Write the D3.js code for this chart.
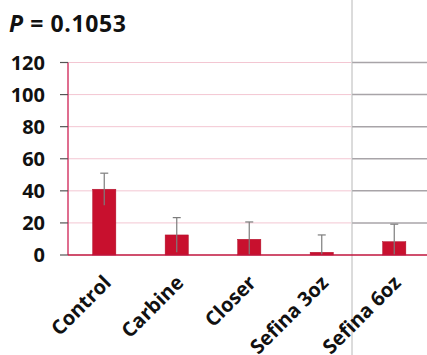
<!DOCTYPE html>
<html><head><meta charset="utf-8">
<script src="https://cdn.jsdelivr.net/npm/d3@7"></script>
<style>body{margin:0;background:#fff;overflow:hidden}svg{display:block}</style>
</head><body>
<svg id="c" width="427" height="355"></svg>
<script>
const categories = ["Control","Carbine","Closer","Sefina 3oz","Sefina 6oz"];
const means = [41, 12.5, 9.8, 1.7, 8.3];
const errors = [10, 10.8, 10.8, 10.8, 10.9];
const yTicks = [0,20,40,60,80,100,120];
const title = "0.1053";

const svg = d3.select("#c");
const W = 427, H = 355;
const axisX = 68, splitX = 352;
const x = d3.scaleBand().domain(categories).range([axisX, axisX + 72.5*5]).paddingInner(0.68).paddingOuter(0.34);
const y = d3.scaleLinear().domain([0,120]).range([255, 62.5]);

svg.append("g").selectAll("line").data(yTicks.filter(d=>d>0)).join("line")
  .attr("x1", axisX).attr("x2", splitX-1).attr("y1", d=>y(d)).attr("y2", d=>y(d))
  .attr("stroke", "#f3c6d2").attr("stroke-width", 1);
svg.append("g").selectAll("line").data(yTicks.filter(d=>d>0)).join("line")
  .attr("x1", splitX).attr("x2", W).attr("y1", d=>y(d)).attr("y2", d=>y(d))
  .attr("stroke", "#a8a4a8").attr("stroke-width", 1.5);
svg.append("line").attr("x1", splitX).attr("x2", splitX).attr("y1", 0).attr("y2", H)
  .attr("stroke", "#b8b8b8").attr("stroke-width", 1);

svg.append("g").selectAll("rect").data(categories).join("rect")
  .attr("x", d=>x(d)).attr("width", x.bandwidth())
  .attr("y", (d,i)=>y(means[i])).attr("height", (d,i)=>y(0)-y(means[i]))
  .attr("fill", "#c8102e").attr("stroke", "#b0102a").attr("stroke-width", 0.5);

const eg = svg.append("g").attr("stroke", "#7d7d7d").attr("stroke-width", 1.2);
categories.forEach((c,i)=>{
  const cx = x(c) + x.bandwidth()/2;
  const top = y(means[i]+errors[i]);
  const bot = y(Math.max(0, means[i]-errors[i]));
  eg.append("line").attr("x1", cx).attr("x2", cx).attr("y1", top).attr("y2", bot);
  eg.append("line").attr("x1", cx-4).attr("x2", cx+4).attr("y1", top).attr("y2", top);
});

svg.append("line").attr("x1", axisX).attr("x2", axisX).attr("y1", y(120)).attr("y2", y(0))
  .attr("stroke", "#d43d6a").attr("stroke-width", 1.5);
svg.append("line").attr("x1", axisX).attr("x2", W).attr("y1", y(0)).attr("y2", y(0))
  .attr("stroke", "#c0143c").attr("stroke-width", 1.5);
svg.append("g").selectAll("line").data(yTicks).join("line")
  .attr("x1", 60).attr("x2", axisX).attr("y1", d=>y(d)).attr("y2", d=>y(d))
  .attr("stroke", "#555").attr("stroke-width", 1.2);
svg.append("g").selectAll("text").data(yTicks).join("text")
  .attr("x", 45).attr("y", d=>y(d)).attr("dy", "0.36em").attr("text-anchor", "end")
  .attr("font-family", "Open Sans").attr("font-weight", "bold").attr("font-size", 20)
  .attr("fill", "#111").text(d=>d);

svg.append("g").selectAll("text").data(categories).join("text")
  .attr("transform", d=>`translate(${x(d)+x.bandwidth()/2+8},${284}) rotate(-45)`)
  .attr("text-anchor", "end")
  .attr("font-family", "Open Sans").attr("font-weight", "bold").attr("font-size", 20)
  .attr("fill", "#111").text(d=>d);

const t = svg.append("text").attr("x", 9).attr("y", 32)
  .attr("font-family", "Open Sans").attr("font-weight", "bold").attr("font-size", 23)
  .attr("letter-spacing", 0.6).attr("fill", "#111");
t.append("tspan").attr("font-style", "italic").text("P");
t.append("tspan").text(" = " + title);
</script>
</body></html>
